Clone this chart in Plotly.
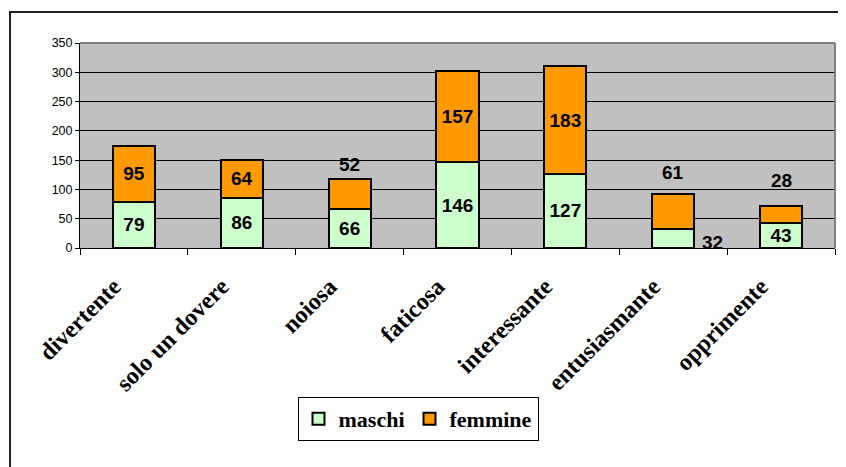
import plotly.graph_objects as go

categories = ["divertente", "solo un dovere", "noiosa", "faticosa", "interessante", "entusiasmante", "opprimente"]
maschi = [79, 86, 66, 146, 127, 32, 43]
femmine = [95, 64, 52, 157, 183, 61, 28]
y_ticks = [0, 50, 100, 150, 200, 250, 300, 350]

# labels drawn outside the bars (index -> True)
fem_outside = [False, False, True, False, False, True, True]
mas_outside = [False, False, False, False, False, True, False]

label_font = dict(family="Arial, Liberation Sans", size=19, color="black", weight="bold")
serif = "Liberation Serif, Times New Roman, serif"

W, H = 838, 459  # page body has an 8px margin

fig = go.Figure()
fig.add_trace(go.Bar(
    x=categories, y=maschi, name="maschi",
    marker=dict(color="#CCFFCC", line=dict(color="black", width=2)),
    text=["" if o else str(v) for v, o in zip(maschi, mas_outside)],
    textposition="inside", insidetextanchor="middle",
    textfont=label_font, constraintext="none",
))
fig.add_trace(go.Bar(
    x=categories, y=femmine, name="femmine",
    marker=dict(color="#FF9900", line=dict(color="black", width=2)),
    text=["" if o else str(v) for v, o in zip(femmine, fem_outside)],
    textposition="inside", insidetextanchor="middle",
    textfont=label_font, constraintext="none",
))

shifts = [0, 0, 14, 0, 0, 21, 26]
for c, m, f, o, s in zip(categories, maschi, femmine, fem_outside, shifts):
    if o:
        fig.add_annotation(x=c, y=m + f, text=str(f), showarrow=False,
                           font=label_font, yanchor="middle", yshift=s)
for c, m, o in zip(categories, maschi, mas_outside):
    if o:
        fig.add_annotation(x=c, y=m / 2, text=str(m), showarrow=False,
                           font=label_font, yanchor="middle", xshift=39, yshift=-4)

# outer chart border (only left and top visible)
fig.add_shape(type="rect", xref="paper", yref="paper",
              x0=-70 / 755, x1=1.2, y0=-2, y1=236 / 205,
              line=dict(color="#222222", width=2), layer="above")
# plot-area top/right border
fig.add_shape(type="line", xref="paper", yref="paper", x0=0, x1=1, y0=1, y1=1,
              line=dict(color="#808080", width=2))
fig.add_shape(type="line", xref="paper", yref="paper", x0=1, x1=1, y0=0, y1=1,
              line=dict(color="#808080", width=2))

fig.update_layout(
    width=W, height=H,
    margin=dict(l=72, r=11, t=35, b=219, autoexpand=False),
    barmode="stack", bargap=0.61,
    plot_bgcolor="#C0C0C0", paper_bgcolor="white",
    showlegend=True,
    legend=dict(orientation="h", xref="container", yref="container",
                x=410 / W, y=1 - 411 / H, xanchor="center", yanchor="middle",
                traceorder="normal", itemwidth=30,
                bordercolor="black", borderwidth=1, bgcolor="white",
                font=dict(family=serif, size=22, color="black", weight="bold"),
                itemclick=False),
)
fig.update_xaxes(showline=True, linecolor="black", linewidth=1, automargin=False,
                 ticks="outside", tickson="boundaries", ticklen=6, tickcolor="black",
                 tickangle=-45, ticklabelshift=-20, ticklabelstandoff=14,
                 tickfont=dict(family=serif, size=24, color="black", weight="bold"),
                 showgrid=False)
fig.update_yaxes(range=[0, 350], tickvals=y_ticks, showline=True, linecolor="black", linewidth=1,
                 automargin=False,
                 ticks="outside", ticklen=4, tickcolor="black",
                 gridcolor="black", gridwidth=1, zeroline=False,
                 tickfont=dict(family="Arial, Liberation Sans", size=12.5, color="black"))

fig.write_html("out.html")
